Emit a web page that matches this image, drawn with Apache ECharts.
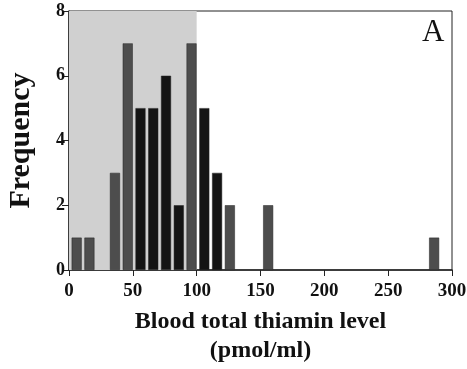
<!DOCTYPE html>
<html><head><meta charset="utf-8">
<script src="https://cdn.jsdelivr.net/npm/echarts@6/dist/echarts.min.js"></script>
<style>html,body{margin:0;padding:0;background:#fff}#c{width:467px;height:369px}</style>
</head><body><div id="c"></div>
<script>
const binCenters = [6, 16, 36, 46, 56, 66, 76, 86, 96, 106, 116, 126, 156, 286];
const frequency  = [1, 1, 3, 7, 5, 5, 6, 2, 7, 5, 3, 2, 2, 1];
const xTicks = [0, 50, 100, 150, 200, 250, 300];
const yTicks = [0, 2, 4, 6, 8];
const shadedRange = [0, 100];
const barTone = ['g','g','g','g','k','k','k','k','g','k','k','g','g','g'];

const serif = '"Liberation Serif","DejaVu Serif",serif';
const chart = echarts.init(document.getElementById('c'));
chart.setOption({
  animation: false,
  grid: {left: 69, right: 15, top: 11, bottom: 99, containLabel: false, outerBoundsMode: 'none',
         show: true, borderColor: '#222', borderWidth: 1},
  xAxis: {
    type: 'value', min: xTicks[0], max: xTicks[xTicks.length-1], interval: 50,
    name: 'Blood total thiamin level\n(pmol/ml)', nameLocation: 'middle', nameGap: 37,
    nameTextStyle: {fontFamily: serif, fontWeight: 'bold', fontSize: 24, color: '#111', lineHeight: 29, verticalAlign: 'top'},
    axisLine: {lineStyle: {color: '#222', width: 1.5}},
    axisTick: {show: true, inside: false, length: 6, lineStyle: {color: '#222'}},
    axisLabel: {fontFamily: serif, fontWeight: 'bold', fontSize: 19, color: '#111', margin: 12},
    splitLine: {show: false}
  },
  yAxis: {
    type: 'value', min: yTicks[0], max: yTicks[yTicks.length-1], interval: 2,
    name: 'Frequency', nameLocation: 'middle', nameGap: 33, nameRotate: 90,
    nameTextStyle: {fontFamily: serif, fontWeight: 'bold', fontSize: 30, color: '#111'},
    axisLine: {show: true, lineStyle: {color: '#222', width: 1.5}},
    axisTick: {show: true, inside: false, length: 7, lineStyle: {color: '#222'}},
    axisLabel: {fontFamily: serif, fontWeight: 'bold', fontSize: 18, color: '#111', margin: 4},
    splitLine: {show: false}
  },
  graphic: [{type: 'text', left: 422, top: 17, style: {text: 'A', font: '31px ' + serif, fill: '#111'}}],
  series: [{
    type: 'bar', barWidth: 10,
    data: binCenters.map((x, i) => ({
      value: [x, frequency[i]],
      itemStyle: {color: barTone[i] === 'k' ? '#141414' : '#4d4d4d', borderColor: '#222', borderWidth: 0.5}
    })),
    markArea: {
      silent: true,
      itemStyle: {color: '#d0d0d0'},
      data: [[{xAxis: shadedRange[0], yAxis: 0}, {xAxis: shadedRange[1], yAxis: 8}]]
    },
    z: 3
  }]
});
</script></body></html>
